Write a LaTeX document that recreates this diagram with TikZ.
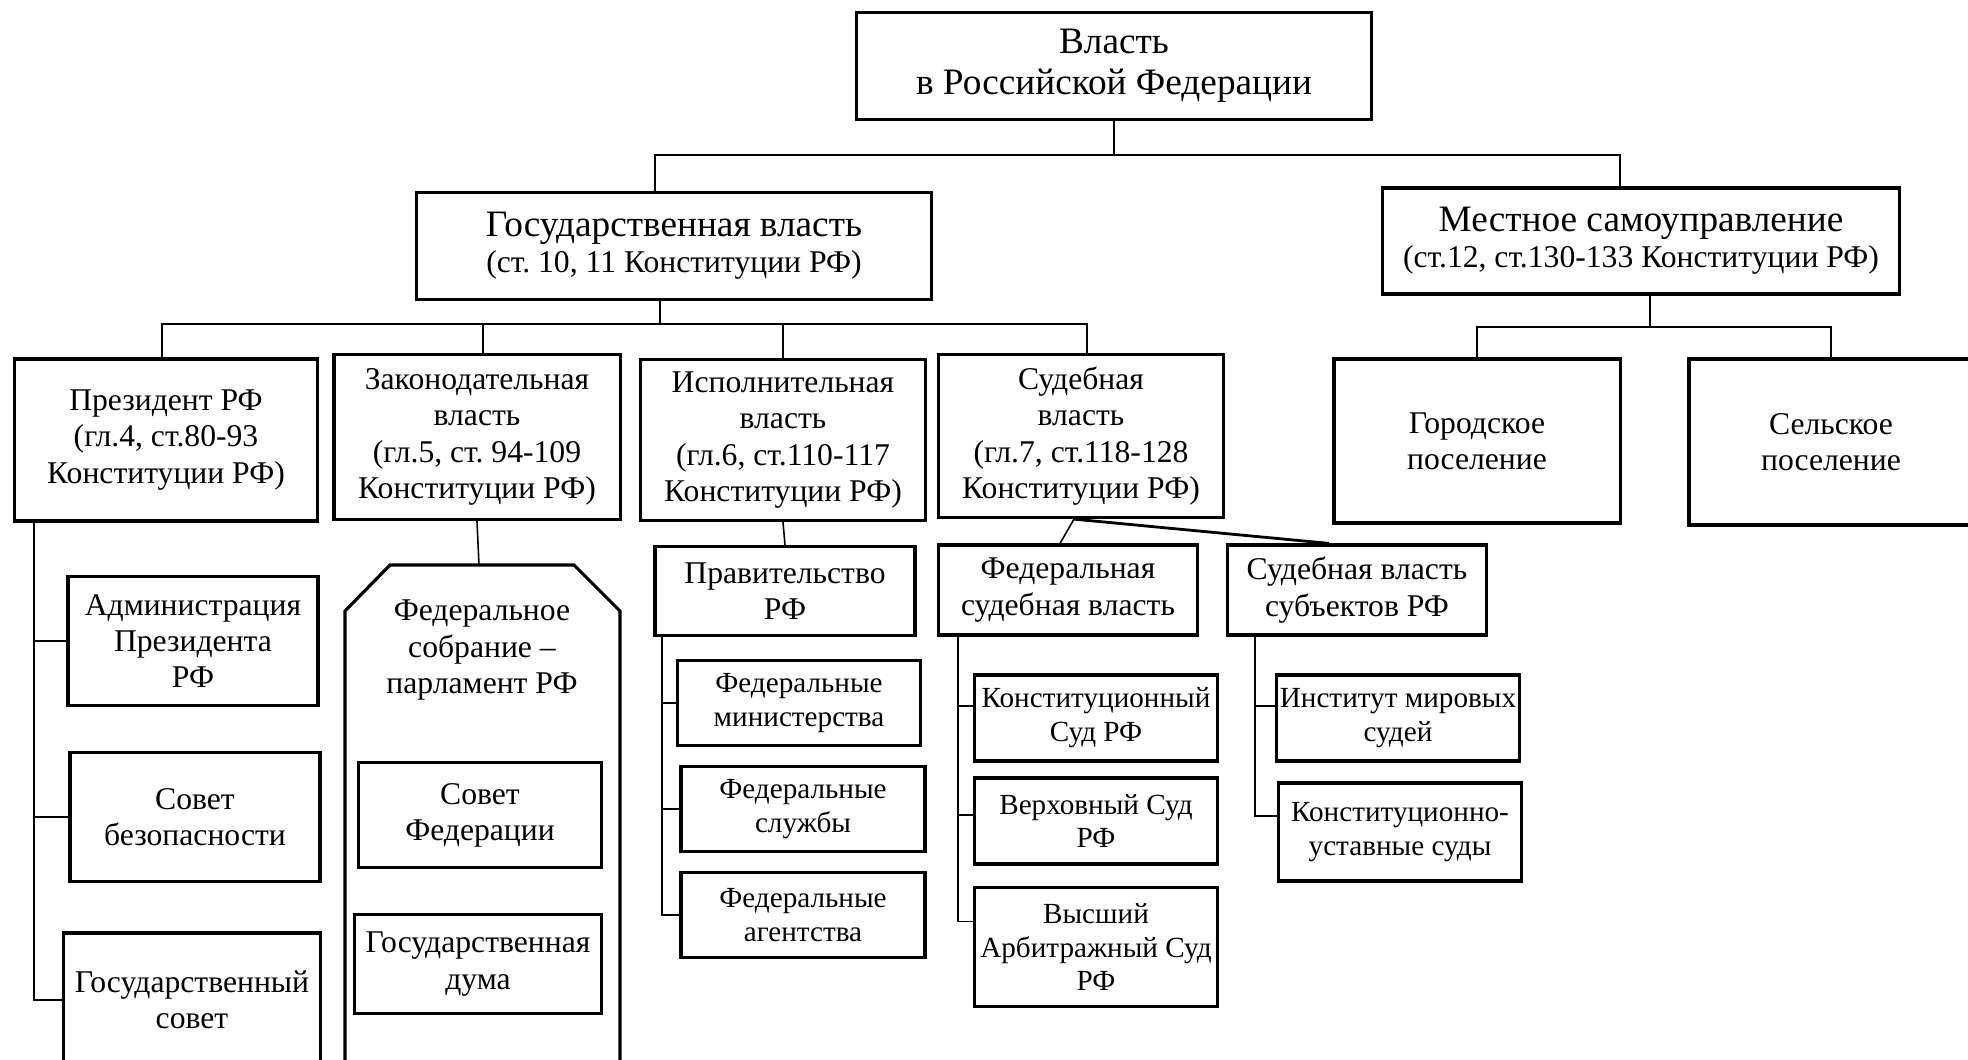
\documentclass[tikz,border=0pt]{standalone}
\usepackage{fontspec}
\setmainfont{Liberation Serif}
\usetikzlibrary{positioning}
\frenchspacing

\begin{document}
\begin{tikzpicture}[x=0.01cm, y=-0.01cm,
  box/.style={draw, line width=0.9pt, align=center, inner sep=1pt},
  link/.style={line width=0.45pt},
  big/.style={font=\fontsize{10.6}{11.8}\selectfont},
  mid/.style={font=\fontsize{9}{10.3}\selectfont},
  small/.style={font=\fontsize{8.3}{9.6}\selectfont}
]
\useasboundingbox (0,0) rectangle (1968,1060);
\clip (0,0) rectangle (1968,1060);
% top levels
\node[box, big, minimum width=5.15cm, minimum height=1.07cm] (root) at (1114,66) {Власть\\в Российской Федерации};
\node[box, mid, minimum width=5.15cm, minimum height=1.07cm] (gov) at (674,246) {{\fontsize{10.6}{12}\selectfont Государственная власть}\\(ст. 10, 11 Конституции РФ)};
\node[box, mid, minimum width=5.16cm, minimum height=1.06cm] (local) at (1641,241) {{\fontsize{10.6}{12}\selectfont Местное самоуправление}\\(ст.12, ст.130-133 Конституции РФ)};
\node[box, mid, minimum width=3.03cm, minimum height=1.62cm] (pres) at (166,440) {Президент РФ\\(гл.4, ст.80-93\\Конституции РФ)};
\node[box, mid, minimum width=2.86cm, minimum height=1.65cm] (leg) at (477,437) {Законодательная\\власть\\(гл.5, ст. 94-109\\Конституции РФ)};
\node[box, mid, minimum width=2.85cm, minimum height=1.61cm] (exe) at (783,440) {Исполнительная\\власть\\(гл.6, ст.110-117\\Конституции РФ)};
\node[box, mid, minimum width=2.85cm, minimum height=1.63cm] (jud) at (1081,436) {Судебная\\власть\\(гл.7, ст.118-128\\Конституции РФ)};
\node[box, mid, minimum width=2.86cm, minimum height=1.64cm] (city) at (1477,441) {Городское\\поселение};
\node[box, mid, minimum width=2.84cm, minimum height=1.66cm] (rural) at (1831,442) {Сельское\\поселение};
% president
\node[box, mid, minimum width=2.5cm, minimum height=1.29cm] (adm) at (193,641) {Администрация\\Президента\\РФ};
\node[box, mid, minimum width=2.5cm, minimum height=1.29cm] (sec) at (195,817) {Совет\\безопасности};
\node[box, mid, minimum width=2.57cm, minimum height=1.34cm] (gsov) at (192,1000) {Государственный\\совет};
% parliament
\draw[line width=0.9pt] (345,1100) -- (345,611) -- (390,565) -- (574,565) -- (620,611) -- (620,1100);
\coordinate (fedtop) at (479,565);
\node[mid, align=center] (fedass) at (482,650) {Федеральное\\собрание –\\парламент РФ};
\node[box, mid, minimum width=2.43cm, minimum height=1.05cm] (sovfed) at (480,815) {Совет\\Федерации};
\node[box, mid, minimum width=2.47cm, minimum height=0.99cm] (duma) at (478,964) {Государственная\\дума};
% government
\node[box, mid, minimum width=2.6cm, minimum height=0.89cm] (gvt) at (785,591) {Правительство\\РФ};
\node[box, small, minimum width=2.43cm, minimum height=0.85cm] (min) at (799,703) {Федеральные\\министерства};
\node[box, small, minimum width=2.44cm, minimum height=0.85cm] (srv) at (803,809) {Федеральные\\службы};
\node[box, small, minimum width=2.44cm, minimum height=0.85cm] (agn) at (803,915) {Федеральные\\агентства};
% courts
\node[box, mid, minimum width=2.59cm, minimum height=0.9cm] (fedjud) at (1068,590) {Федеральная\\судебная власть};
\node[box, mid, minimum width=2.59cm, minimum height=0.9cm] (subjud) at (1357,590) {Судебная власть\\субъектов РФ};
\node[box, small, minimum width=2.43cm, minimum height=0.86cm] (ks) at (1096,718) {Конституционный\\Суд РФ};
\node[box, small, minimum width=2.43cm, minimum height=0.86cm] (vs) at (1096,821) {Верховный Суд\\РФ};
\node[box, small, minimum width=2.43cm, minimum height=1.19cm] (vas) at (1096,947) {Высший\\Арбитражный Суд\\РФ};
\node[box, small, minimum width=2.43cm, minimum height=0.86cm] (mir) at (1398,718) {Институт мировых\\судей};
\node[box, small, minimum width=2.43cm, minimum height=0.98cm] (kus) at (1400,832) {Конституционно-\\уставные суды};
% connectors
\coordinate (b1) at (655,155);
\coordinate (b2) at (1620,155);
\draw[link] (root.south) -- (root.south |- b1);
\draw[link] (gov.north -| b1) |- (b2) -- (local.north -| b2);
\coordinate (g0) at (660,324);
\draw[link] (g0 |- gov.south) -- (g0);
\draw[link] ([xshift=-0.04cm]pres.north) |- ([xshift=0.06cm]jud.north |- g0) -- ([xshift=0.06cm]jud.north);
\draw[link] ([xshift=0.06cm]leg.north) -- ([xshift=0.06cm]leg.north |- g0);
\draw[link] (exe.north) -- (exe.north |- g0);
\coordinate (l0) at (1650,327);
\draw[link] (l0 |- local.south) -- (l0);
\draw[link] (city.north) |- (rural.north |- l0) -- (rural.north);
\coordinate (p0) at (34,0);
\draw[link] (pres.south -| p0) |- (gsov.west);
\draw[link] (adm.west -| p0) -- (adm.west);
\draw[link] (sec.west -| p0) -- (sec.west);
\draw[link] (leg.south) -- (fedtop);
\draw[link] (exe.south) -- (gvt.north);
\coordinate (e0) at (662,0);
\draw[link] (gvt.south -| e0) |- (agn.west);
\draw[link] (min.west -| e0) -- (min.west);
\draw[link] (srv.west -| e0) -- (srv.west);
\draw[link] ([xshift=-0.07cm]jud.south) -- ([xshift=-0.08cm]fedjud.north);
\draw[link, line width=0.8pt] ([xshift=-0.07cm]jud.south) -- ([xshift=-0.28cm]subjud.north);
\coordinate (j0) at (958,0);
\draw[link] (fedjud.south -| j0) |- ([yshift=0.255cm]vas.west);
\draw[link] ([yshift=0.12cm]ks.west -| j0) -- ([yshift=0.12cm]ks.west);
\draw[link] ([yshift=0.06cm]vs.west -| j0) -- ([yshift=0.06cm]vs.west);
\coordinate (s0) at (1255,0);
\draw[link] (subjud.south -| s0) |- ([yshift=0.16cm]kus.west);
\draw[link] ([yshift=0.12cm]mir.west -| s0) -- ([yshift=0.12cm]mir.west);
\end{tikzpicture}
\end{document}
